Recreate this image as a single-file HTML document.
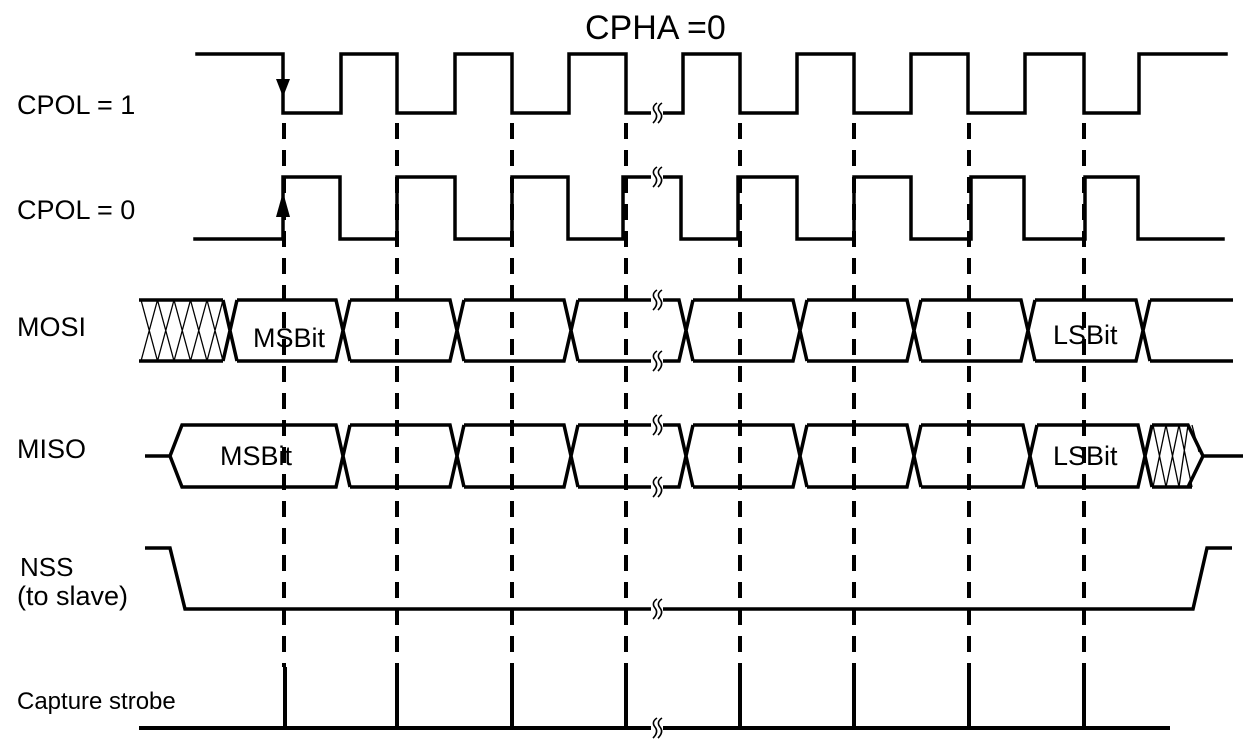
<!DOCTYPE html>
<html><head><meta charset="utf-8"><style>
html,body{margin:0;padding:0;background:#fff;}
svg{display:block;}
text{font-family:"Liberation Sans",Arial,sans-serif;fill:#000;}
</style></head><body>
<svg width="1255" height="752" viewBox="0 0 1255 752" xmlns="http://www.w3.org/2000/svg">
<rect width="1255" height="752" fill="#fff"/>
<!-- labels -->
<text x="585" y="39" font-size="34">CPHA =0</text>
<text x="17" y="114" font-size="27">CPOL = 1</text>
<text x="17" y="219" font-size="27">CPOL = 0</text>
<text x="17" y="336" font-size="27">MOSI</text>
<text x="17" y="458" font-size="27">MISO</text>
<text x="20" y="576" font-size="26">NSS</text>
<text x="17" y="605" font-size="27">(to slave)</text>
<text x="17" y="709" font-size="24">Capture strobe</text>

<!-- dashed lines -->
<g stroke="#000" stroke-width="4" stroke-dasharray="16 11" fill="none">
<line x1="284" y1="123" x2="284" y2="667"/>
<line x1="397" y1="123" x2="397" y2="667"/>
<line x1="512" y1="123" x2="512" y2="667"/>
<line x1="626" y1="123" x2="626" y2="667"/>
<line x1="740" y1="123" x2="740" y2="667"/>
<line x1="854" y1="123" x2="854" y2="667"/>
<line x1="969" y1="123" x2="969" y2="667"/>
<line x1="1084" y1="123" x2="1084" y2="667"/>
</g>

<g stroke="#000" stroke-width="3.5" fill="none" stroke-linejoin="miter" stroke-linecap="square">
<!-- CPOL=1 -->
<path d="M197,54 H283 V113 H341 V54 H397 V113 H455 V54 H512 V113 H569 V54 H626 V113 H683 V54 H740 V113 H797 V54 H854 V113 H911 V54 H968 V113 H1025 V54 H1084 V113 H1139 V54 H1226"/>
<!-- CPOL=0 -->
<path d="M195,239 H283 V177 H340 V239 H397 V177 H455 V239 H512 V177 H568 V239 H623 V177 H681 V239 H738 V177 H797 V239 H854 V177 H911 V239 H971 V177 H1024 V239 H1085 V177 H1138 V239 H1223"/>
</g>
<!-- arrows -->
<polygon points="276,79 290,79 283,97" fill="#000"/>
<polygon points="283,192 276,217 290,217" fill="#000"/>

<!-- MOSI -->
<g stroke="#000" stroke-width="3.5" fill="none" stroke-linecap="butt">
<line x1="139" y1="300" x2="223" y2="300"/>
<line x1="139" y1="361" x2="223" y2="361"/>
<path d="M223,300 L237,361 M223,361 L237,300"/>
<path d="M237,300 H336 L350,361 M237,361 H336 L350,300"/>
<path d="M350,300 H450 L464,361 M350,361 H450 L464,300"/>
<path d="M464,300 H564 L578,361 M464,361 H564 L578,300"/>
<path d="M578,300 H679 L693,361 M578,361 H679 L693,300"/>
<path d="M693,300 H793 L807,361 M693,361 H793 L807,300"/>
<path d="M807,300 H907 L921,361 M807,361 H907 L921,300"/>
<path d="M921,300 H1021 L1035,361 M921,361 H1021 L1035,300"/>
<path d="M1035,300 H1136 L1150,361 M1035,361 H1136 L1150,300"/>
<path d="M1150,300 H1233 M1150,361 H1233"/>
</g>
<g stroke="#000" stroke-width="1.3" fill="none">
<path d="M141,300 L157.5,361 M157.5,300 L141,361
M157.5,300 L174,361 M174,300 L157.5,361
M174,300 L190.5,361 M190.5,300 L174,361
M190.5,300 L207,361 M207,300 L190.5,361
M207,300 L223,361 M223,300 L207,361"/>
</g>

<!-- MISO -->
<g stroke="#000" stroke-width="3.5" fill="none" stroke-linecap="butt">
<path d="M145,456 H170 L182,425 H336 L350,487 M170,456 L182,487 H336 L350,425"/>
<path d="M350,425 H450 L464,487 M350,487 H450 L464,425"/>
<path d="M464,425 H564 L578,487 M464,487 H564 L578,425"/>
<path d="M578,425 H679 L693,487 M578,487 H679 L693,425"/>
<path d="M693,425 H793 L807,487 M693,487 H793 L807,425"/>
<path d="M807,425 H907 L921,487 M807,487 H907 L921,425"/>
<path d="M921,425 H1023 L1037,487 M921,487 H1023 L1037,425"/>
<path d="M1037,425 H1138 L1152,487 M1037,487 H1138 L1152,425"/>
<path d="M1152,425 H1188 L1203,456 H1243 M1152,487 H1192 M1188,487 L1203,456"/>
</g>
<g stroke="#000" stroke-width="1.3" fill="none">
<path d="M1153,425 L1166,487 M1166,425 L1153,487
M1166,425 L1179,487 M1179,425 L1166,487
M1179,425 L1192,487 M1188,425 L1179,487
M1192,425 L1199,452"/>
</g>

<!-- NSS -->
<path d="M145,548 H170 L185,609 H1193 L1207,548 H1232" stroke="#000" stroke-width="3.5" fill="none"/>

<!-- Capture strobe -->
<g stroke="#000" stroke-width="4" fill="none">
<line x1="139" y1="728" x2="1170" y2="728"/>
<line x1="285" y1="667" x2="285" y2="728"/>
<line x1="397" y1="667" x2="397" y2="728"/>
<line x1="512" y1="667" x2="512" y2="728"/>
<line x1="626" y1="667" x2="626" y2="728"/>
<line x1="740" y1="667" x2="740" y2="728"/>
<line x1="854" y1="667" x2="854" y2="728"/>
<line x1="969" y1="667" x2="969" y2="728"/>
<line x1="1084" y1="667" x2="1084" y2="728"/>
</g>

<!-- data labels -->
<text x="253" y="347" font-size="27">MSBit</text>
<text x="220" y="465" font-size="27">MSBit</text>
<text x="1053" y="344" font-size="27">LSBit</text>
<text x="1053" y="465" font-size="27">LSBit</text>

<!-- break marks -->
<defs>
<g id="brk">
<rect x="-6" y="-5" width="12" height="10" fill="#fff"/>
<path d="M0,-10 Q-6,-6 -2,-1 Q2,4 -4,10 M5,-10 Q-1,-6 3,-1 Q7,4 1,10" stroke="#000" stroke-width="1.6" fill="none"/>
</g>
</defs>
<use href="#brk" x="657" y="113"/>
<use href="#brk" x="657" y="177"/>
<use href="#brk" x="657" y="300"/>
<use href="#brk" x="657" y="361"/>
<use href="#brk" x="657" y="425"/>
<use href="#brk" x="657" y="487"/>
<use href="#brk" x="657" y="609"/>
<use href="#brk" x="657" y="728"/>
</svg>
</body></html>
